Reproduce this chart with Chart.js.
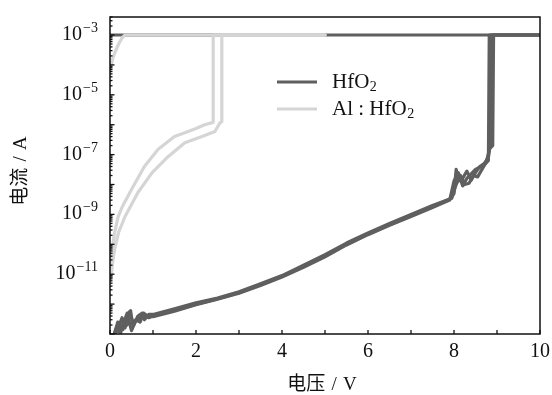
<!DOCTYPE html>
<html>
<head>
<meta charset="utf-8">
<script src="https://cdn.jsdelivr.net/npm/chart.js@4.4.1/dist/chart.umd.min.js"></script>
<style>
  html, body { margin: 0; padding: 0; background: #ffffff; }
  #wrap { width: 552px; height: 395px; }
</style>
</head>
<body>
<div id="wrap"><canvas id="ivchart"></canvas></div>
<script>
// HfO2 sweeps (voltage in V, current in A)
const hfo2V1 = [0.10,0.15,0.20,0.25,0.30,0.35,0.40,0.45,0.50,0.60,0.70,0.80,0.90,1.00,1.50,2.00,2.50,3.00,3.50,4.00,4.50,5.00,5.50,6.00,6.50,7.00,7.50,7.90,8.00,8.05,8.10,8.20,8.30,8.40,8.50,8.60,8.70,8.80,8.85,8.87,10.0];
const hfo2I1 = [1.0e-13,1.6e-13,1.2e-13,2.0e-13,1.4e-13,3.2e-13,5.0e-13,2.5e-13,1.3e-13,2.8e-13,3.5e-13,4.0e-13,3.5e-13,4.0e-13,6.3e-13,1.0e-12,1.5e-12,2.4e-12,4.5e-12,8.5e-12,1.8e-11,4.0e-11,1.0e-10,2.2e-10,4.5e-10,9.0e-10,1.8e-9,3.2e-9,5.0e-9,3.2e-8,1.3e-8,1.6e-8,2.8e-8,1.4e-8,2.5e-8,4.0e-8,5.0e-8,8.0e-8,2.5e-7,1.0e-3,1.0e-3];

const hfo2V2 = [0.10,0.18,0.25,0.32,0.40,0.45,0.50,0.55,0.65,0.75,0.80,0.90,1.00,1.50,2.00,2.50,3.00,3.50,4.00,4.50,5.00,5.50,6.00,6.50,7.00,7.50,7.95,8.05,8.15,8.25,8.35,8.45,8.55,8.65,8.75,8.83,8.90,8.92,10.0];
const hfo2I2 = [1.0e-13,2.5e-13,1.1e-13,3.0e-13,2.0e-13,5.5e-13,3.5e-13,2.0e-13,4.0e-13,5.0e-13,3.0e-13,4.5e-13,4.5e-13,7.0e-13,1.1e-12,1.6e-12,2.6e-12,4.8e-12,9.0e-12,2.0e-11,4.5e-11,1.1e-10,2.4e-10,5.0e-10,1.0e-9,2.0e-9,3.5e-9,1.0e-8,2.0e-8,1.0e-8,1.1e-8,2.0e-8,1.8e-8,3.2e-8,5.6e-8,1.6e-7,2.0e-7,1.0e-3,1.0e-3];

const hfo2V3 = [0.12,0.20,0.28,0.35,0.42,0.48,0.52,0.60,0.70,0.78,0.85,1.00,1.50,2.00,2.50,3.00,3.50,4.00,4.50,5.00,5.50,6.00,6.50,7.00,7.50,7.90,8.00,8.10,8.20,8.30,8.50,8.70,8.80,8.82,10.0];
const hfo2I3 = [1.0e-13,1.8e-13,3.5e-13,1.6e-13,4.0e-13,6.0e-13,2.2e-13,3.0e-13,2.5e-13,5.0e-13,4.2e-13,3.8e-13,5.8e-13,9.5e-13,1.45e-12,2.3e-12,4.2e-12,8.0e-12,1.7e-11,3.8e-11,9.5e-11,2.1e-10,4.3e-10,8.5e-10,1.7e-9,3.0e-9,1.3e-8,2.5e-8,9.0e-9,1.6e-8,3.2e-8,4.5e-8,6.3e-8,1.0e-3,1.0e-3];

// HfO2 compliance level kept on the way back
const hfo2BackV = [0.0, 10.0];
const hfo2BackI = [1.0e-3, 1.0e-3];

// Al:HfO2 sweeps
const alV1 = [0.02,0.05,0.10,0.19,0.30,0.50,0.80,1.12,1.50,1.74,2.00,2.20,2.38,2.40,2.40,5.0];
const alI1 = [1.6e-11,6.0e-11,2.2e-10,8.5e-10,2.0e-9,6.8e-9,4.0e-8,1.5e-7,4.0e-7,5.4e-7,7.5e-7,1.0e-6,1.17e-6,1.2e-6,1.0e-3,1.0e-3];

const alV2 = [0.03,0.06,0.10,0.20,0.35,0.65,0.98,1.35,1.74,2.14,2.44,2.56,2.60,2.60,5.0];
const alI2 = [8.0e-12,2.5e-11,6.0e-11,2.5e-10,8.5e-10,5.4e-9,2.5e-8,8.5e-8,2.5e-7,4.0e-7,5.9e-7,1.17e-6,1.25e-6,1.0e-3,1.0e-3];

const alBackV = [0.00,0.03,0.06,0.12,0.20,0.28,0.35,5.0];
const alBackI = [8.0e-5,1.0e-4,1.6e-4,2.7e-4,5.0e-4,8.0e-4,1.0e-3,1.0e-3];

// axes
const xTicks = [0,1,2,3,4,5,6,7,8,9,10];
const xTickLabels = ['0','','2','','4','','6','','8','','10'];
const yDecades = [-13,-12,-11,-10,-9,-8,-7,-6,-5,-4,-3];
const yLabelExps = [-3,-5,-7,-9,-11];

const darkGray = '#5f5f5f';
const lightGray = '#d5d5d5';
const serif = "'Liberation Serif', 'Noto Sans CJK SC', serif";
const gap = '\u2004';

function pts(vs, is) {
    return vs.map((v, k) => ({ x: v, y: is[k] }));
}

function sweep(label, vs, is, color, order) {
    return {
        label: label,
        data: pts(vs, is),
        borderColor: color,
        backgroundColor: color,
        borderWidth: 3.2,
        pointRadius: 0,
        tension: 0,
        borderJoinStyle: 'round',
        borderCapStyle: 'round',
        order: order
    };
}

const frame = {
    id: 'frame',
    afterDraw(chart) {
        const c = chart.ctx;
        const a = chart.chartArea;
        const xs = chart.scales.x, ys = chart.scales.y;
        c.save();
        c.strokeStyle = '#111111';
        c.lineWidth = 1.5;
        c.strokeRect(a.left, a.top, a.right - a.left, a.bottom - a.top);

        // x ticks, inward
        c.lineWidth = 1.3;
        c.fillStyle = '#111111';
        c.font = '20px ' + serif;
        c.textAlign = 'center';
        c.textBaseline = 'alphabetic';
        xTicks.forEach((t, k) => {
            const px = xs.getPixelForValue(t);
            c.beginPath();
            c.moveTo(px, a.bottom);
            c.lineTo(px, a.bottom - 4);
            c.stroke();
            if (xTickLabels[k]) c.fillText(xTickLabels[k], px, 357);
        });

        // y ticks, major + minor, inward
        yDecades.forEach(e => {
            const base = Math.pow(10, e);
            const py = ys.getPixelForValue(base);
            c.beginPath();
            c.moveTo(a.left, py);
            c.lineTo(a.left + 4.5, py);
            c.stroke();
            for (let m = 2; m <= 9; m++) {
                const v = m * base;
                if (v > ys.max) break;
                const pm = ys.getPixelForValue(v);
                c.beginPath();
                c.moveTo(a.left, pm);
                c.lineTo(a.left + 2.5, pm);
                c.stroke();
            }
        });

        // y labels with superscripts
        yLabelExps.forEach(e => {
            const py = ys.getPixelForValue(Math.pow(10, e));
            const sup = '\u2212' + Math.abs(e);
            c.textAlign = 'right';
            c.font = '14px ' + serif;
            const sw = c.measureText(sup).width;
            c.fillText(sup, 98, py - 3);
            c.font = '20px ' + serif;
            c.fillText('10', 98 - sw - 1, py + 5);
        });

        // axis titles
        c.font = '19px ' + serif;
        c.textAlign = 'center';
        c.textBaseline = 'middle';
        c.fillText('电压' + gap + '/' + gap + 'V', 322, 385);
        c.save();
        c.translate(21, 171);
        c.rotate(-Math.PI / 2);
        c.fillText('电流' + gap + '/' + gap + 'A', 0, 0);
        c.restore();

        // legend
        const items = [
            { color: darkGray, y: 82, main: 'HfO', sub: '2' },
            { color: lightGray, y: 109, main: 'Al : HfO', sub: '2' }
        ];
        items.forEach(it => {
            c.strokeStyle = it.color;
            c.lineWidth = 3.2;
            c.beginPath();
            c.moveTo(277, it.y);
            c.lineTo(317, it.y);
            c.stroke();
            c.textAlign = 'left';
            c.textBaseline = 'alphabetic';
            c.font = '21px ' + serif;
            c.fillStyle = '#111111';
            c.fillText(it.main, 332, it.y + 6);
            const w = c.measureText(it.main).width;
            c.font = '14px ' + serif;
            c.fillText(it.sub, 332 + w + 0.5, it.y + 9);
        });
        c.restore();
    }
};

const ctx = document.getElementById('ivchart').getContext('2d');
const ivChart = new Chart(ctx, {
    type: 'line',
    data: {
        datasets: [
            sweep('HfO2', hfo2V1, hfo2I1, darkGray, 2),
            sweep('HfO2', hfo2V2, hfo2I2, darkGray, 2),
            sweep('HfO2', hfo2V3, hfo2I3, darkGray, 2),
            sweep('HfO2', hfo2BackV, hfo2BackI, darkGray, 2),
            sweep('Al:HfO2', alV1, alI1, lightGray, 1),
            sweep('Al:HfO2', alV2, alI2, lightGray, 1),
            sweep('Al:HfO2', alBackV, alBackI, lightGray, 1)
        ]
    },
    options: {
        responsive: true,
        maintainAspectRatio: false,
        animation: false,
        layout: { padding: { top: 17, right: 12, left: 0, bottom: 0 } },
        plugins: { legend: { display: false }, tooltip: { enabled: false } },
        scales: {
            x: {
                type: 'linear', min: 0, max: 10,
                grid: { display: false }, border: { display: false },
                ticks: { display: false },
                afterFit(s) { s.height = 61; }
            },
            y: {
                type: 'logarithmic', min: 1e-13, max: 4e-3,
                grid: { display: false }, border: { display: false },
                ticks: { display: false },
                afterFit(s) { s.width = 110; }
            }
        }
    },
    plugins: [frame]
});
</script>
</body>
</html>
